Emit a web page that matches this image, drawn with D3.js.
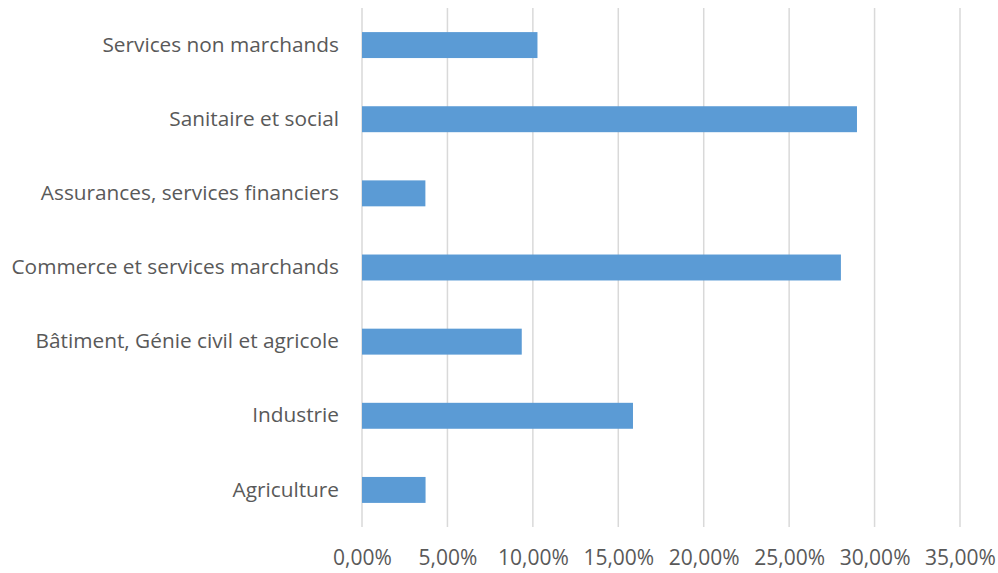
<!DOCTYPE html>
<html>
<head>
<meta charset="utf-8">
<script src="https://cdn.jsdelivr.net/npm/d3@7"></script>
<style>
    body { margin: 0; background: #fff; }
    svg text { font-family: "Open Sans", "Liberation Sans", sans-serif; fill: #595959; }
</style>
</head>
<body>
<div id="chart"></div>
<script>
// Categories from bottom to top as in the picture
const categories = [
    'Agriculture',
    'Industrie',
    'Bâtiment, Génie civil et agricole',
    'Commerce et services marchands',
    'Assurances, services financiers',
    'Sanitaire et social',
    'Services non marchands'
];
const shares = [3.72, 15.86, 9.35, 28.03, 3.71, 28.97, 10.27];
const xTicks = [0, 5, 10, 15, 20, 25, 30, 35];

const width = 998, height = 573;
const margin = { top: 8, right: 38, bottom: 46, left: 362 };
const innerW = width - margin.left - margin.right;
const innerH = height - margin.top - margin.bottom;

const svg = d3.select('#chart')
    .append('svg')
    .attr('width', width)
    .attr('height', height)
    .append('g')
    .attr('transform', `translate(${margin.left},${margin.top})`);

const x = d3.scaleLinear().domain([0, 35]).range([0, innerW]);
const y = d3.scaleBand()
    .domain(categories.slice().reverse())
    .range([0, innerH])
    .paddingInner(0.65)
    .paddingOuter(0.325);

// Vertical gridlines
svg.append('g')
    .selectAll('line')
    .data(xTicks)
    .enter()
    .append('line')
    .attr('x1', d => x(d))
    .attr('x2', d => x(d))
    .attr('y1', 0)
    .attr('y2', innerH)
    .attr('stroke', '#d9d9d9')
    .attr('stroke-width', 1.5);

// Bars
svg.selectAll('.bar')
    .data(categories.map((c, i) => ({ category: c, value: shares[i] })))
    .enter()
    .append('rect')
    .attr('class', 'bar')
    .attr('x', x(0))
    .attr('y', d => y(d.category))
    .attr('width', d => x(d.value) - x(0))
    .attr('height', y.bandwidth())
    .attr('fill', '#5b9bd5');

// X axis labels
const xAxis = svg.append('g')
    .attr('transform', `translate(0,${innerH})`)
    .call(d3.axisBottom(x)
        .tickValues(xTicks)
        .tickSize(0)
        .tickPadding(23)
        .tickFormat(d => d.toFixed(2).replace('.', ',') + '%'));
xAxis.select('.domain').remove();
xAxis.selectAll('text')
    .style('font-size', '21px')
    .attr('fill', '#595959');

// Y axis labels
const yAxis = svg.append('g')
    .call(d3.axisLeft(y).tickSize(0).tickPadding(23));
yAxis.select('.domain').remove();
yAxis.selectAll('text')
    .style('font-size', '20.8px')
    .attr('fill', '#595959');
</script>
</body>
</html>
